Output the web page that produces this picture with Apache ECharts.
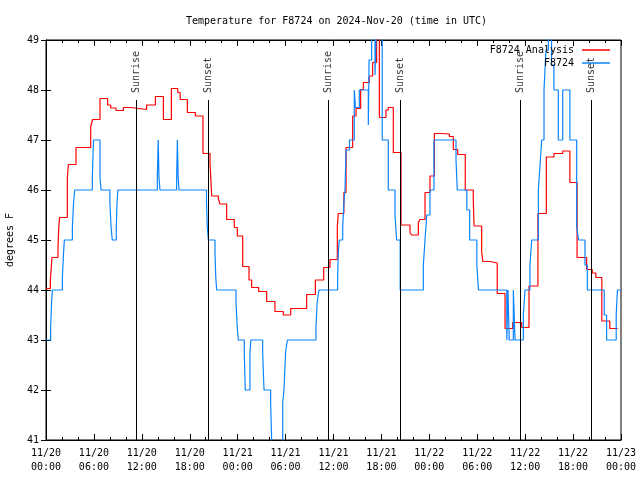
<!DOCTYPE html>
<html>
<head>
<meta charset="utf-8">
<script src="https://cdn.jsdelivr.net/npm/echarts@6/dist/echarts.min.js"></script>
<style>html,body{margin:0;padding:0;background:#fff}#c{width:640px;height:480px}</style>
</head>
<body>
<div id="c"></div>
<script>
// Hours since 2024-11-20 00:00 UTC; each value holds until the next time (steps).
const analysisHours = [0,0.55,0.75,1.5,1.6,1.7,2.67,2.8,3.76,5.6,5.84,6.76,7.72,8.1,8.76,9.68,10.64,12.6,13.7,14.7,15.7,16.5,16.8,17.7,18.7,19.66,20.54,20.75,21.58,21.79,22.62,23.58,23.96,24.63,25.42,25.75,26.63,27.63,28.67,29.72,30.64,32.64,33.73,34.77,35.56,36.48,36.6,37.3,37.57,38.4,38.82,39.4,39.74,40.48,40.9,41.4,41.74,42.57,42.86,43.49,44.45,45.58,45.79,46.63,46.83,47.46,48.08,48.63,49.55,50.5,51.0,51.55,52.5,53.5,53.6,54.55,54.7,55.6,56.5,57.48,58.44,59.57,60.48,61.6,62.65,63.6,64.7,65.6,66.5,67.7,68.4,68.85,69.6,70.6,71.6];
const analysisTemps = [44.03,44.2,44.65,44.86,45.25,45.45,46.23,46.51,46.85,47.27,47.41,47.83,47.7,47.64,47.59,47.65,47.61,47.7,47.87,47.41,48.03,47.95,47.81,47.55,47.48,46.73,46.53,45.88,45.82,45.72,45.41,45.25,45.08,44.47,44.2,44.05,43.97,43.77,43.57,43.5,43.63,43.91,44.2,44.45,44.61,45.28,45.53,45.95,46.85,47.48,47.63,48.01,48.15,48.28,48.55,49.1,47.45,47.6,47.65,46.75,45.3,45.15,45.1,45.35,45.41,45.95,46.28,47.13,47.12,47.07,46.81,46.71,46.0,45.81,45.28,44.77,44.57,44.54,43.93,43.23,43.35,43.25,44.08,45.53,46.66,46.73,46.78,46.15,44.65,44.41,44.34,44.25,43.38,43.23,43.23];

const stationHours = [0,0.58,0.7,0.8,2.05,2.2,2.3,3.3,3.45,3.6,5.8,5.95,6.76,6.9,8.0,8.15,8.3,8.8,8.9,9.0,13.94,14.05,14.15,14.27,16.36,16.45,16.55,16.65,20.1,20.2,20.33,21.16,21.26,21.37,23.79,23.95,24.08,24.83,24.95,25.54,25.65,27.13,27.3,28.13,28.34,29.64,29.8,30.0,30.22,33.8,33.95,34.18,36.52,36.6,36.73,37.15,37.3,37.44,37.57,38.0,38.6,38.75,39.23,40.36,40.45,40.78,41.2,41.4,42.1,42.86,43.7,43.9,44.35,47.25,47.46,47.67,48.08,48.58,51.34,51.5,52.7,53.05,53.95,54.15,57.7,57.85,58.0,58.52,58.73,59.77,59.98,60.6,60.82,61.65,61.86,62.07,62.36,62.6,62.9,63.3,63.6,64.15,64.7,65.6,66.45,66.7,67.49,67.78,69.9,70.2,71.4,71.55,71.95];
const stationTemps = [43.0,43.25,43.75,44.0,44.25,44.75,45.0,45.25,45.75,46.0,46.25,47.0,46.25,46.0,45.75,45.25,45.0,45.25,45.75,46.0,46.25,47.0,46.25,46.0,46.25,47.0,46.25,46.0,45.75,45.25,45.0,44.75,44.25,44.0,43.75,43.25,43.0,42.75,42.0,42.75,43.0,42.75,42.0,41.75,40.5,41.75,42.0,42.75,43.0,43.25,43.75,44.0,44.25,44.75,45.0,45.25,45.75,46.0,46.8,47.0,48.0,47.65,48.0,47.3,48.6,49.4,48.3,49.5,47.0,46.0,45.5,45.0,44.0,44.5,45.0,45.5,46.0,47.0,46.6,46.0,45.6,45.0,44.5,44.0,43.0,44.0,43.0,44.0,43.0,43.5,44.0,44.5,45.0,46.0,46.5,47.0,48.0,48.8,49.5,48.5,48.0,47.0,48.0,47.0,45.25,45.0,44.5,44.0,43.5,43.0,43.5,44.0,44.0];

const sunEventHours = [11.3, 20.3, 35.3, 44.4, 59.4, 68.25];
const sunEventNames = ['Sunrise', 'Sunset', 'Sunrise', 'Sunset', 'Sunrise', 'Sunset'];

const xTickLabels = ['11/20\n00:00','11/20\n06:00','11/20\n12:00','11/20\n18:00','11/21\n00:00','11/21\n06:00','11/21\n12:00','11/21\n18:00','11/22\n00:00','11/22\n06:00','11/22\n12:00','11/22\n18:00','11/23\n00:00'];

const seriesNames = ['F8724 Analysis', 'F8724'];
const titleText = 'Temperature for F8724 on 2024-Nov-20 (time in UTC)';

const FONT = 'DejaVu Sans Mono';
const yMin = 41, yMax = 49;
const sunLineTop = yMin + 0.85 * (yMax - yMin);
const sunLabelY = sunLineTop + 0.14;

const zip = (a, b) => a.map((v, i) => [v, b[i]]);

const chart = echarts.init(document.getElementById('c'), null, {renderer: 'canvas'});
const tickCommon = {inside: true, length: 6, lineStyle: {color: '#000', width: 1}};
const minorCommon = {show: true, splitNumber: 3, length: 3, lineStyle: {color: '#000', width: 1}};

chart.setOption({
  animation: false,
  backgroundColor: '#fff',
  title: {
    text: titleText, left: 181, top: 11,
    textStyle: {fontFamily: FONT, fontSize: 10, fontWeight: 'normal', color: '#000'}
  },
  legend: {
    data: seriesNames, orient: 'vertical', right: 25, top: 39,
    align: 'right', icon: 'rect', itemWidth: 28, itemHeight: 1.5, itemGap: 1,
    textStyle: {fontFamily: FONT, fontSize: 10, color: '#000', lineHeight: 12, padding: [0, 3, 0, 0]}
  },
  grid: {left: 46, right: 19, top: 40, bottom: 40, containLabel: false, outerBoundsMode: 'none',
    show: true, borderColor: '#000', borderWidth: 1, backgroundColor: 'transparent'},
  xAxis: [{
    type: 'value', min: 0, max: 72, interval: 6,
    axisLine: {show: true, lineStyle: {color: '#000'}},
    axisTick: tickCommon, minorTick: minorCommon, splitLine: {show: false},
    axisLabel: {
      color: '#000', fontFamily: FONT, fontSize: 10, lineHeight: 14, margin: 6,
      showMinLabel: true, showMaxLabel: true,
      formatter: v => xTickLabels[Math.round(v / 6)] || ''
    }
  }, {
    type: 'value', min: 0, max: 72, interval: 6, position: 'top',
    axisLine: {show: true, lineStyle: {color: '#000'}},
    axisTick: tickCommon, minorTick: minorCommon, splitLine: {show: false},
    axisLabel: {show: false}
  }],
  yAxis: [{
    type: 'value', min: yMin, max: yMax, interval: 1,
    name: 'degrees F', nameLocation: 'middle', nameGap: 31,
    nameTextStyle: {fontFamily: FONT, fontSize: 10, color: '#000'},
    axisLine: {show: true, lineStyle: {color: '#000'}},
    axisTick: {inside: true, length: 5, lineStyle: {color: '#000'}},
    splitLine: {show: false},
    axisLabel: {color: '#000', fontFamily: FONT, fontSize: 10, margin: 7}
  }, {
    type: 'value', min: yMin, max: yMax, interval: 1, position: 'right',
    axisLine: {show: true, lineStyle: {color: '#000'}},
    axisTick: {inside: true, length: 5, lineStyle: {color: '#000'}},
    splitLine: {show: false}, axisLabel: {show: false}
  }],
  series: [{
    name: seriesNames[0], type: 'line', step: 'end', showSymbol: false, symbol: 'none',
    data: zip(analysisHours, analysisTemps),
    lineStyle: {color: '#ff0000', width: 1.2}, itemStyle: {color: '#ff0000'}, z: 2
  }, {
    name: seriesNames[1], type: 'line', step: 'end', showSymbol: false, symbol: 'none',
    data: zip(stationHours, stationTemps),
    lineStyle: {color: '#0a84ff', width: 1.2}, itemStyle: {color: '#0a84ff'}, z: 3
  }, {
    name: 'sun', type: 'scatter', symbolSize: 0, silent: true, z: 4,
    data: sunEventHours.map((h, i) => ({value: [h, sunLabelY], name: sunEventNames[i]})),
    label: {
      show: true, position: 'inside', rotate: 90, align: 'left', verticalAlign: 'middle',
      formatter: p => p.name, fontFamily: FONT, fontSize: 10, color: '#000'
    },
    markLine: {
      silent: true, symbol: ['none', 'none'], animation: false,
      lineStyle: {color: '#000', width: 1, type: 'solid'},
      label: {show: false},
      data: sunEventHours.map(h => [{coord: [h, yMin]}, {coord: [h, sunLineTop]}])
    }
  }]
});
</script>
</body>
</html>
